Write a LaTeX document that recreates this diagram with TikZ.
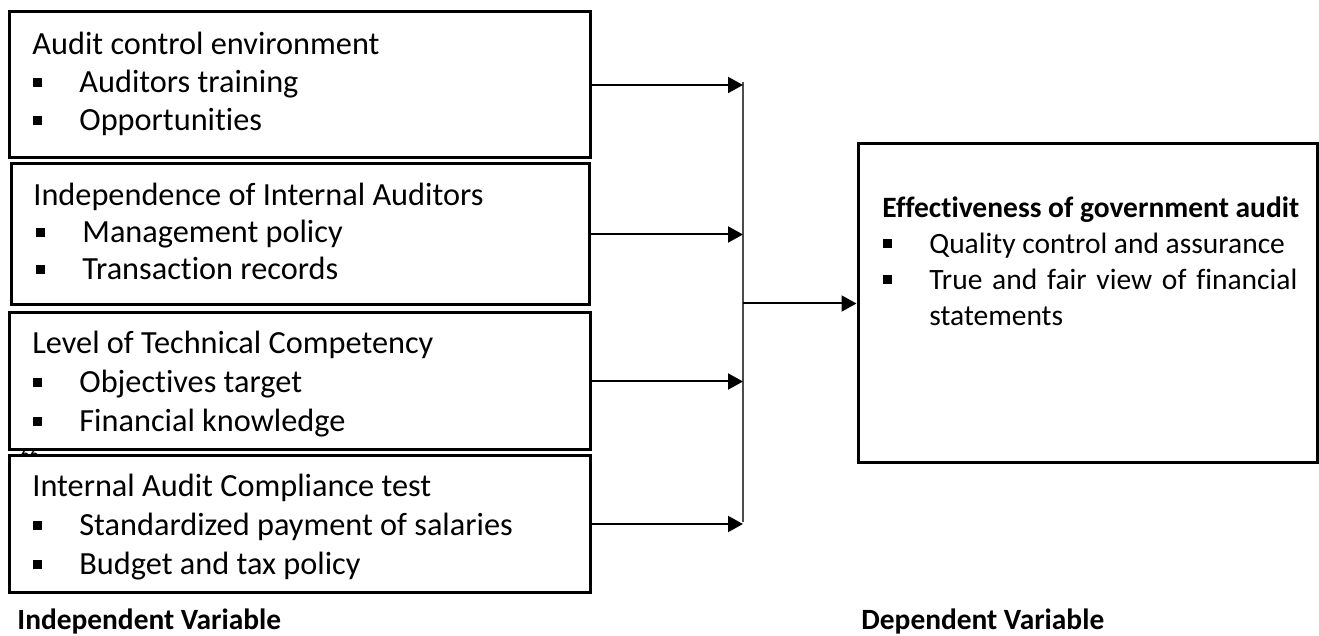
\documentclass[tikz,border=0pt]{standalone}
\usepackage{fontspec}
\setmainfont[Ligatures={NoCommon,NoContextual}]{Carlito}
\usetikzlibrary{arrows.meta,fit}
\newcommand\bul{\makebox[23.5pt][l]{\hspace*{0.5pt}\rule[3pt]{4.5pt}{4.5pt}}}
\begin{document}
\begin{tikzpicture}[x=0.5pt,y=-0.5pt,
  box/.style={draw,line width=1.5pt,fill=white,inner sep=0pt},
  lefttext/.style={anchor=base west,inner sep=0pt,font=\fontsize{16.15}{19}\selectfont},
  righttext/.style={anchor=base west,inner sep=0pt,font=\fontsize{14.75}{18}\selectfont},
  label/.style={anchor=base west,inner sep=0pt,font=\fontsize{14.7}{17.5}\selectfont\bfseries},
  stray/.style={anchor=base west,inner sep=0pt,font=\fontsize{9}{10}\selectfont},
  arr/.style={line width=1pt,-{Triangle[length=7.5pt,width=8pt]}},
  spine/.style={line width=0.75pt,draw=black!70},
]
\useasboundingbox (0,0) rectangle (1319,636);
% stray mark partly hidden by the fourth box
\node[stray] (s) at (20,461) {66};
% boxes
\node[box,fit={(9,12) (590,158)}] (b1) {};
\node[box,fit={(11,164) (589,305)}] (b2) {};
\node[box,fit={(9,313) (590,450)}] (b3) {};
\node[box,fit={(9,456) (590,592)}] (b4) {};
\node[box,fit={(858,144) (1317,463)}] (eff) {};
% texts
\node[lefttext] (t1) at (32,55) {\parbox[t]{275pt}{Audit control environment\\\bul Auditors training\\\bul Opportunities}};
\node[lefttext] (t2) at (33,206) {\parbox[t]{275pt}{\fontsize{16.15}{18.5}\selectfont Independence of Internal Auditors\\\hspace*{1pt}\bul Management policy\\\hspace*{1pt}\bul Transaction records}};
\node[lefttext] (t3) at (32,354) {\parbox[t]{275pt}{\fontsize{16.15}{19.5}\selectfont Level of Technical Competency\\\bul Objectives target\\\bul Financial knowledge}};
\node[lefttext] (t4) at (32,497) {\parbox[t]{275pt}{\fontsize{16.15}{19.5}\selectfont Internal Audit Compliance test\\\bul Standardized payment of salaries\\\bul Budget and tax policy}};
\node[righttext] (t5) at (882,218) {\parbox[t]{215pt}{\textbf{Effectiveness of government audit}\\\bul Quality control and assurance\\\bul\makebox[184pt][s]{True and fair view of financial}\\\hspace*{23.5pt}statements}};
\node[label] (iv) at (17,629) {Independent Variable};
\node[label] (dv) at (861,629) {Dependent Variable};
% spine
\coordinate (top) at (743,82);
\coordinate (bot) at (743,522);
\draw[spine] (top) -- (bot);
% connectors
\draw[arr] (b1.east) -- (b1.east -| top);
\draw[arr] (b2.east) -- (b2.east -| top);
\draw[arr] (b3.east) -- (b3.east -| top);
\draw[arr] (b4.east) -- (b4.east -| top);
\draw[arr] (eff.west -| top) -- (eff.west);
\end{tikzpicture}
\end{document}
